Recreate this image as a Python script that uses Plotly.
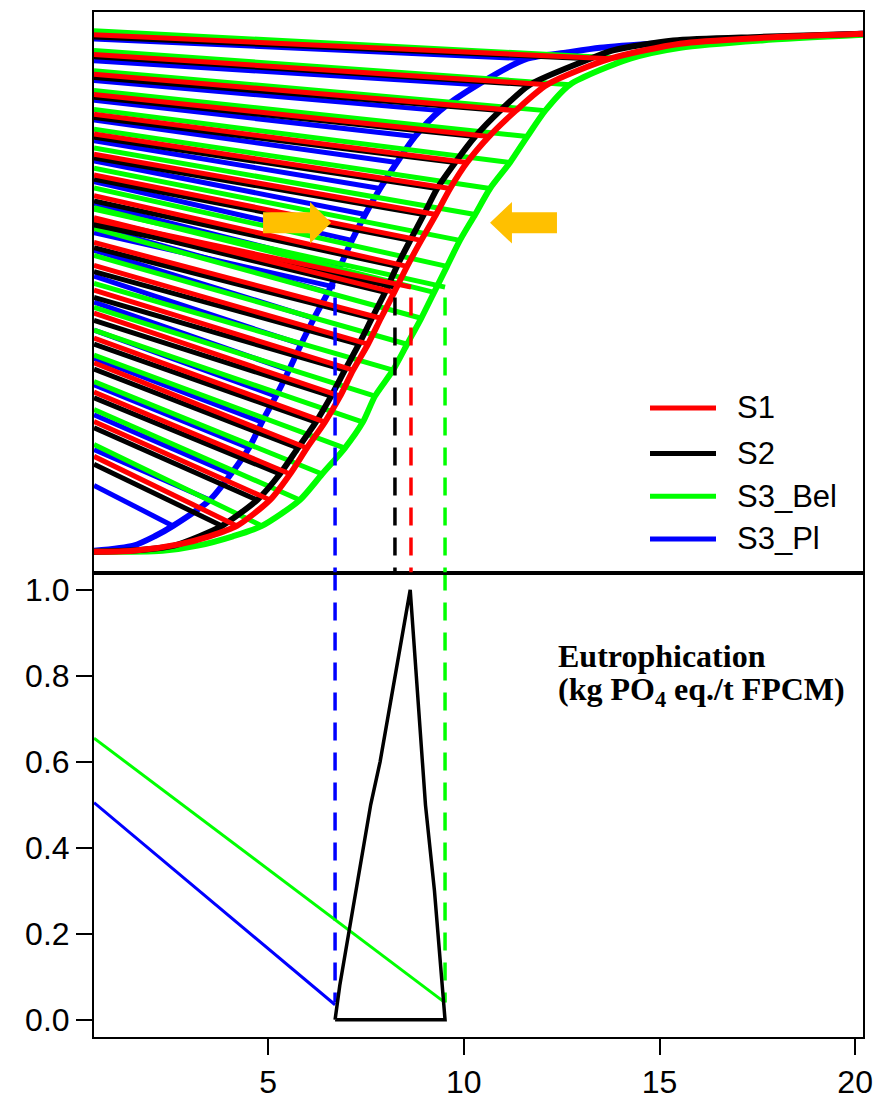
import plotly.graph_objects as go

# ---------------- data ----------------
X_MIN, X_MAX = 0.55, 20.2

SCENARIOS = ["S1", "S2", "S3_Bel", "S3_Pl"]
COLORS = {"S1": "#ff0000", "S2": "#000000", "S3_Bel": "#00ff00", "S3_Pl": "#0000ff"}

# probability levels of the quantile rays
P_LEVELS = [0.05, 0.10, 0.15, 0.20, 0.25, 0.30, 0.35, 0.40, 0.45, 0.50,
            0.55, 0.60, 0.65, 0.70, 0.75, 0.80, 0.85, 0.90, 0.95]

# quantiles of each cumulative distribution at P_LEVELS
S1_Q = [4.20, 5.05, 5.56, 5.99, 6.45, 6.84, 7.17, 7.55, 7.88, 8.22,
        8.55, 8.91, 9.29, 9.65, 10.08, 10.64, 11.33, 12.13, 13.74]
S2_Q = [3.82, 4.72, 5.30, 5.76, 6.22, 6.61, 6.96, 7.32, 7.65, 7.99,
        8.29, 8.63, 8.98, 9.32, 9.78, 10.29, 10.93, 11.69, 13.23]
S3_BEL_Q = [4.84, 5.81, 6.38, 6.96, 7.42, 7.73, 8.19, 8.55, 8.91, 9.24,
            9.57, 9.90, 10.29, 10.67, 11.18, 11.62, 12.08, 12.71, 14.25]
S3_PL_Q = [2.57, 3.51, 4.05, 4.51, 4.84, 5.20, 5.53, 5.84, 6.17, 6.53,
           6.84, 7.14, 7.48, 7.86, 8.29, 8.75, 9.39, 10.36, 11.62]

# distribution tails (x, cumulative probability)
S1_LOW_X, S1_LOW_P = [0.55, 1.55, 2.75, 3.50], [0.0, 0.002, 0.015, 0.03]
S1_UP_X, S1_UP_P = [15.53, 17.57, 20.2], [0.979, 0.990, 0.998]
S2_LOW_X, S2_LOW_P = [0.55, 1.80, 2.60, 3.25], [0.0, 0.004, 0.012, 0.03]
S2_UP_X, S2_UP_P = [13.81, 15.35, 17.57, 20.2], [0.966, 0.985, 0.992, 0.998]
S3_BEL_LOW_X, S3_BEL_LOW_P = [0.55, 2.30, 3.20, 4.10], [0.0, 0.002, 0.012, 0.03]
S3_BEL_UP_X, S3_BEL_UP_P = [15.53, 17.57, 20.2], [0.971, 0.985, 0.996]
S3_PL_LOW_X, S3_PL_LOW_P = [0.55, 1.56, 2.10], [0.002, 0.012, 0.03]
S3_PL_UP_X, S3_PL_UP_P = [12.64, 13.48, 15.19, 16.03, 20.2], [0.962, 0.971, 0.981, 0.985, 0.998]

# height at which each quantile ray leaves the left axis
S1_START = [0.184, 0.251, 0.308, 0.364, 0.412, 0.460, 0.504, 0.552, 0.596, 0.644,
            0.686, 0.726, 0.766, 0.805, 0.843, 0.881, 0.920, 0.958, 0.996]
S2_START = [0.169, 0.239, 0.297, 0.352, 0.400, 0.446, 0.490, 0.540, 0.586, 0.634,
            0.676, 0.718, 0.759, 0.799, 0.837, 0.876, 0.914, 0.954, 0.992]
S3_BEL_START = [0.207, 0.274, 0.328, 0.379, 0.427, 0.471, 0.517, 0.571, 0.623, 0.663,
                0.701, 0.739, 0.778, 0.814, 0.852, 0.889, 0.927, 0.966, 1.004]
S3_PL_START = [0.128, 0.197, 0.264, 0.322, 0.373, 0.427, 0.481, 0.531, 0.581, 0.627,
               0.671, 0.713, 0.753, 0.792, 0.832, 0.870, 0.908, 0.946, 0.988]

# mean of each scenario, with its ray
MEAN_X = {"S1": 8.65, "S2": 8.24, "S3_Bel": 9.52, "S3_Pl": 6.71}
MEAN_START = {"S1": 0.640, "S2": 0.630, "S3_Bel": 0.660, "S3_Pl": 0.615}
MEAN_P = 0.51
DASH_TOP_P = 0.49

# fuzzy number (membership function) in the lower panel
FUZZY_X = [6.71, 6.83, 7.62, 7.86, 8.63, 8.87, 9.02, 9.25, 9.50, 9.52, 6.71]
FUZZY_Y = [0.0, 0.08, 0.50, 0.60, 1.00, 0.70, 0.50, 0.30, 0.04, 0.0, 0.0]

# lower-panel bounds of the two S3 scenarios
S3_BEL_BOUND_X, S3_BEL_BOUND_Y = [0.55, 9.52], [0.655, 0.04]
S3_PL_BOUND_X, S3_PL_BOUND_Y = [0.55, 6.71], [0.505, 0.035]
LOWER_DASH_END = 0.04

Y_TICKS = [0.0, 0.2, 0.4, 0.6, 0.8, 1.0]
Y_TICK_TEXT = ["0.0", "0.2", "0.4", "0.6", "0.8", "1.0"]
X_TICKS = [5, 10, 15, 20]

QUANT = {"S1": S1_Q, "S2": S2_Q, "S3_Bel": S3_BEL_Q, "S3_Pl": S3_PL_Q}
START = {"S1": S1_START, "S2": S2_START, "S3_Bel": S3_BEL_START, "S3_Pl": S3_PL_START}
TAILS = {
    "S1": (S1_LOW_X, S1_LOW_P, S1_UP_X, S1_UP_P),
    "S2": (S2_LOW_X, S2_LOW_P, S2_UP_X, S2_UP_P),
    "S3_Bel": (S3_BEL_LOW_X, S3_BEL_LOW_P, S3_BEL_UP_X, S3_BEL_UP_P),
    "S3_Pl": (S3_PL_LOW_X, S3_PL_LOW_P, S3_PL_UP_X, S3_PL_UP_P),
}

# ---------------- layout geometry ----------------
W, H = 887, 1110
M_L, M_R, M_T, M_B = 94, 24, 10, 67
SPLIT = 468 / 1033          # fraction of the plot height used by the lower panel
FONT = "Liberation Sans, Arial, sans-serif"
ORANGE = "#ffc000"

fig = go.Figure()

# ---------------- upper panel: rays and cumulative curves ----------------
for s in ["S3_Pl", "S3_Bel", "S2", "S1"]:
    col = COLORS[s]
    rx, ry = [], []
    for x0, q, p in zip(START[s], QUANT[s], P_LEVELS):
        rx += [X_MIN, q, None]
        ry += [x0, p, None]
    rx += [X_MIN, MEAN_X[s], None]
    ry += [MEAN_START[s], MEAN_P, None]
    fig.add_trace(go.Scatter(x=rx, y=ry, mode="lines", xaxis="x2", yaxis="y2",
                             line=dict(color=col, width=5), hoverinfo="skip",
                             showlegend=False))
    lx, lp, ux, up = TAILS[s]
    fig.add_trace(go.Scatter(x=lx + QUANT[s] + ux, y=lp + P_LEVELS + up, mode="lines",
                             xaxis="x2", yaxis="y2",
                             line=dict(color=col, width=6, shape="spline", smoothing=0.7),
                             showlegend=False))

# dashed drops from the means
for s in ["S3_Pl", "S2", "S1", "S3_Bel"]:
    fig.add_trace(go.Scatter(x=[MEAN_X[s], MEAN_X[s]], y=[DASH_TOP_P, -0.04], mode="lines",
                             xaxis="x2", yaxis="y2",
                             line=dict(color=COLORS[s], width=3.5, dash="18px,12px"),
                             showlegend=False))

# ---------------- lower panel ----------------
for s in ["S3_Pl", "S3_Bel"]:
    fig.add_trace(go.Scatter(x=[MEAN_X[s], MEAN_X[s]], y=[1.04, LOWER_DASH_END], mode="lines",
                             xaxis="x", yaxis="y",
                             line=dict(color=COLORS[s], width=3.5, dash="18px,12px"),
                             showlegend=False))

fig.add_trace(go.Scatter(x=S3_PL_BOUND_X, y=S3_PL_BOUND_Y, mode="lines",
                         line=dict(color=COLORS["S3_Pl"], width=3), showlegend=False))
fig.add_trace(go.Scatter(x=S3_BEL_BOUND_X, y=S3_BEL_BOUND_Y, mode="lines",
                         line=dict(color=COLORS["S3_Bel"], width=3), showlegend=False))
fig.add_trace(go.Scatter(x=FUZZY_X, y=FUZZY_Y, mode="lines",
                         line=dict(color="black", width=3.5), showlegend=False))


# ---------------- decorations ----------------
def px_x(px):
    return (px - M_L) / (W - M_L - M_R)


def px_y(py):
    return (H - M_B - py) / (H - M_T - M_B)


shapes = []
annotations = []

# legend drawn in the upper panel
LEG_Y = [409, 455, 498, 541]
for s, yy in zip(SCENARIOS, LEG_Y):
    shapes.append(dict(type="line", xref="paper", yref="paper",
                       x0=px_x(650), x1=px_x(716), y0=px_y(yy), y1=px_y(yy),
                       line=dict(color=COLORS[s], width=5)))
    annotations.append(dict(xref="paper", yref="paper", x=px_x(735), y=px_y(yy),
                            text=s, showarrow=False, xanchor="left", yanchor="middle",
                            font=dict(family=FONT, size=31, color="black")))


# two block arrows marking the shift of the distributions
def arrow_path(tail, base, tip, yc, hs, hh):
    return (f"M {tail} {yc - hs} L {base} {yc - hs} L {base} {yc - hh} L {tip} {yc} "
            f"L {base} {yc + hh} L {base} {yc + hs} L {tail} {yc + hs} Z")


ARROW_Y, ARROW_HS, ARROW_HH = 0.634, 0.020, 0.040
for tail, base, tip in [(4.87, 6.07, 6.61), (12.38, 11.23, 10.67)]:
    shapes.append(dict(type="path", xref="x2", yref="y2",
                       path=arrow_path(tail, base, tip, ARROW_Y, ARROW_HS, ARROW_HH),
                       fillcolor=ORANGE, line=dict(width=0), layer="above"))

# panel title
TITLE_FONT = dict(family="Liberation Serif, Times New Roman, serif", size=32, color="black")
annotations.append(dict(xref="x", yref="y", x=12.36, y=0.845, text="<b>Eutrophication</b>",
                        showarrow=False, xanchor="left", yanchor="middle", font=TITLE_FONT))
annotations.append(dict(xref="x", yref="y", x=12.36, y=0.763,
                        text="<b>(kg PO<sub>4</sub> eq./t FPCM)</b>",
                        showarrow=False, xanchor="left", yanchor="middle", font=TITLE_FONT))

axis_common = dict(showline=True, mirror=True, linecolor="black", linewidth=2,
                   showgrid=False, zeroline=False)

fig.update_layout(
    width=W, height=H,
    margin=dict(l=M_L, r=M_R, t=M_T, b=M_B),
    plot_bgcolor="white", paper_bgcolor="white",
    showlegend=False,
    shapes=shapes, annotations=annotations,
    xaxis=dict(domain=[0, 1], anchor="y", range=[X_MIN, X_MAX], tickvals=X_TICKS,
               ticks="outside", ticklen=16, tickwidth=2, tickcolor="black",
               tickfont=dict(family=FONT, size=32, color="black"), **axis_common),
    yaxis=dict(domain=[0, SPLIT], anchor="x", range=[-0.04, 1.04], tickvals=Y_TICKS,
               ticktext=Y_TICK_TEXT, ticks="outside", ticklen=16, tickwidth=2,
               tickcolor="black", tickfont=dict(family=FONT, size=32, color="black"),
               **axis_common),
    xaxis2=dict(domain=[0, 1], anchor="y2", matches="x", range=[X_MIN, X_MAX],
                showticklabels=False, ticks="", **axis_common),
    yaxis2=dict(domain=[SPLIT, 1], anchor="x2", range=[-0.04, 1.04],
                showticklabels=False, ticks="", **axis_common),
)

fig.write_html("out.html")
